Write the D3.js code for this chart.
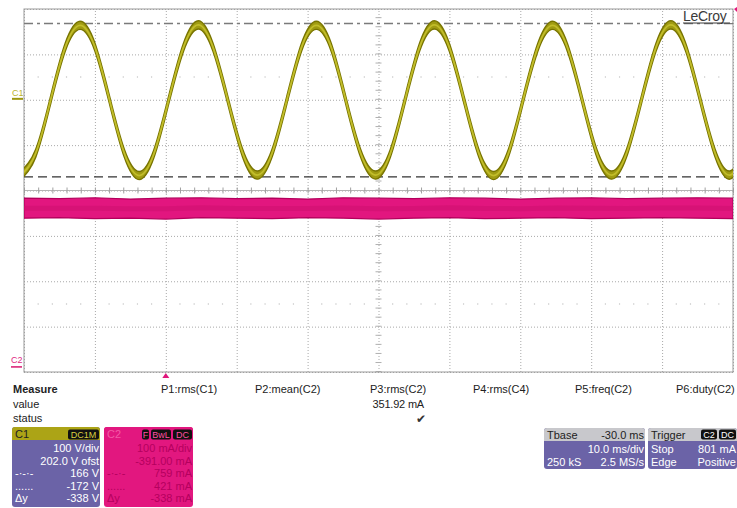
<!DOCTYPE html>
<html>
<head>
<meta charset="utf-8">
<script src="https://cdn.jsdelivr.net/npm/d3@7"></script>
<style>
  html, body { margin: 0; padding: 0; background: #fff; }
  svg { display: block; font-family: "Liberation Sans", Arial, sans-serif; }
</style>
</head>
<body>
<svg id="scope" width="737" height="508"></svg>
<script>
// ---- Channel C1 (voltage) samples, ms / V, one per eighth of a mains cycle ----
const c1Time = [-20.43, -18.35, -16.27, -14.18, -12.10, -10.02, -7.93, -5.85,
  -3.77, -1.68, 0.40, 2.48, 4.57, 6.65, 8.73, 10.82,
  12.90, 14.98, 17.07, 19.15, 21.23, 23.32, 25.40, 27.48,
  29.57, 31.65, 33.73, 35.82, 37.90, 39.98, 42.07, 44.15,
  46.23, 48.32, 50.40, 52.48, 54.57, 56.65, 58.73, 60.82,
  62.90, 64.98, 67.07, 69.15, 71.23, 73.32, 75.40, 77.48,
  79.57, 81.65];
const c1Volts = [-168, -120, -4, 114, 162, 115, -3, -120,
  -169, -121, -3, 113, 163, 114, -2, -119,
  -168, -120, -3, 114, 162, 114, -4, -120,
  -168, -121, -3, 115, 163, 114, -3, -120,
  -169, -120, -2, 114, 162, 113, -3, -121,
  -168, -120, -3, 114, 163, 114, -3, -120,
  -168, -120];
const c1Noise = 9;              // half-width of the noise band, V

// ---- Channel C2 (current) noise envelope, ms / mA ----
const c2Time  = [-20, -15, -10, -5, 0, 5, 10, 15, 20, 25, 30, 35, 40, 45, 50, 55, 60, 65, 70, 75, 80];
const c2Upper = [374, 373, 375, 372, 374, 375, 373, 374, 372, 375, 374, 373, 375, 374, 372, 374, 375, 373, 374, 375, 374];
const c2Lower = [330, 331, 329, 330, 328, 331, 330, 329, 331, 330, 328, 330, 331, 329, 330, 331, 329, 330, 331, 330, 329];

// ---- Screen divisions ----
const timeDivs = [-20, -10, 0, 10, 20, 30, 40, 50, 60, 70, 80];           // 10 ms/div
const c1Divs   = [-602, -502, -402, -302, -202, -102, -2, 98, 198];       // 100 V/div, 202 V offset
const c1Range  = [-602, 198];
const c2Range  = [-9, 791];                                               // 100 mA/div, -391 mA offset
const cursorVolts = [166, -172];
const triggerTime = 0;
const triggerLevel = 801;

// ---- Readout texts ----
const measureLabels = ["Measure", "value", "status"];
const paramNames = ["P1:rms(C1)", "P2:mean(C2)", "P3:rms(C2)", "P4:rms(C4)", "P5:freq(C2)", "P6:duty(C2)"];
const paramValues = ["", "", "351.92 mA", "", "", ""];
const c1Rows = [["", "100 V/div"], ["", "202.0 V ofst"], ["-·-·-", "166 V"], ["......", "-172 V"], ["Δy", "-338 V"]];
const c2Rows = [["", "100 mA/div"], ["", "-391.00 mA"], ["-·-·-", "759 mA"], ["......", "421 mA"], ["Δy", "-338 mA"]];
const tbaseRows = [["", "10.0 ms/div"], ["250 kS", "2.5 MS/s"]];
const trigRows = [["Stop", "801 mA"], ["Edge", "Positive"]];

const svg = d3.select("#scope");
const L = 24, R = 733, T = 9, B = 372;
const cx = (L + R) / 2, cy = (T + B) / 2;

const x  = d3.scaleLinear().domain([-20, 80]).range([L, R]);
const y1 = d3.scaleLinear().domain(c1Range).range([B, T]);
const y2 = d3.scaleLinear().domain(c2Range).range([B, T]);

svg.append("defs").append("clipPath").attr("id", "plotClip")
  .append("rect").attr("x", L).attr("y", T).attr("width", R - L).attr("height", B - T);

// ---- Graticule ----
const grid = svg.append("g");
grid.append("g")
  .attr("transform", `translate(0,${B})`)
  .call(d3.axisBottom(x).tickValues(timeDivs).tickSize(-(B - T)).tickFormat(""))
  .call(g => g.select(".domain").remove())
  .call(g => g.selectAll("line").attr("stroke", "#a8a8a8").attr("stroke-dasharray", "1,2"));
grid.append("g")
  .attr("transform", `translate(${L},0)`)
  .call(d3.axisLeft(y1).tickValues(c1Divs).tickSize(-(R - L)).tickFormat(""))
  .call(g => g.select(".domain").remove())
  .call(g => g.selectAll("line").attr("stroke", "#a8a8a8").attr("stroke-dasharray", "1,2"));

// centre horizontal line with minor ticks
grid.append("line").attr("x1", L).attr("x2", R).attr("y1", cy).attr("y2", cy)
  .attr("stroke", "#b4b4b4").attr("stroke-width", 1);
grid.append("g")
  .attr("transform", `translate(0,${cy - 3})`)
  .call(d3.axisBottom(x).ticks(50).tickSize(6).tickFormat(""))
  .call(g => g.select(".domain").remove())
  .call(g => g.selectAll("line").attr("stroke", "#a0a0a0"));
// centre vertical minor ticks
grid.append("g")
  .attr("transform", `translate(${cx - 3},0)`)
  .call(d3.axisRight(y1).tickValues(d3.range(-600, 199, 20)).tickSize(6).tickFormat(""))
  .call(g => g.select(".domain").remove())
  .call(g => g.selectAll("line").attr("stroke", "#b0b0b0"));

// faint dotted rows at 1.5 and 6.5 divisions
const minorTimes = x.ticks(50).filter(t => t % 10 !== 0);
[y1(-202 + 250), y1(-202 - 250)].forEach(yy => {
  grid.append("g").selectAll("circle").data(minorTimes).join("circle")
    .attr("cx", d => x(d)).attr("cy", yy).attr("r", 0.7).attr("fill", "#c4c4c4");
});

// frame
svg.append("rect").attr("x", L).attr("y", T).attr("width", R - L).attr("height", B - T)
  .attr("fill", "none").attr("stroke", "#9a9a9a").attr("stroke-width", 1);

// ---- Cursors ----
svg.append("line").attr("x1", L).attr("x2", R).attr("y1", y1(cursorVolts[0])).attr("y2", y1(cursorVolts[0]))
  .attr("stroke", "#7a7a7a").attr("stroke-width", 1.3).attr("stroke-dasharray", "9,4,3,4");
svg.append("line").attr("x1", L).attr("x2", R).attr("y1", y1(cursorVolts[1])).attr("y2", y1(cursorVolts[1]))
  .attr("stroke", "#333").attr("stroke-width", 1.3).attr("stroke-dasharray", "9,5");

// ---- Traces ----
const traces = svg.append("g").attr("clip-path", "url(#plotClip)");

const c1 = c1Time.map((t, i) => ({ t, v: c1Volts[i] }));
traces.append("path").datum(c1)
  .attr("d", d3.area().curve(d3.curveNatural)
    .x(d => x(d.t)).y0(d => y1(d.v - c1Noise)).y1(d => y1(d.v + c1Noise)))
  .attr("fill", "#a09b12").attr("stroke", "#787400").attr("stroke-width", 1.4);
traces.append("path").datum(c1)
  .attr("d", d3.line().curve(d3.curveNatural).x(d => x(d.t)).y(d => y1(d.v)))
  .attr("fill", "none").attr("stroke", "#c2bd2a").attr("stroke-width", 1.8);

const c2 = c2Time.map((t, i) => ({ t, hi: c2Upper[i], lo: c2Lower[i] }));
traces.append("path").datum(c2)
  .attr("d", d3.area().x(d => x(d.t)).y0(d => y2(d.lo)).y1(d => y2(d.hi)))
  .attr("fill", "#e2167f").attr("stroke", "#b3005c").attr("stroke-width", 1.2);
traces.append("path").datum(c2)
  .attr("d", d3.line().x(d => x(d.t)).y(d => y2((d.hi + d.lo) / 2)))
  .attr("fill", "none").attr("stroke", "#d0106f").attr("stroke-width", 5).attr("opacity", 0.6);

// ---- Channel markers on the left ----
svg.append("text").attr("x", 12).attr("y", 96).attr("font-size", 9).attr("fill", "#b9b330").text("C1");
svg.append("line").attr("x1", 12).attr("x2", 23).attr("y1", y1(0)).attr("y2", y1(0))
  .attr("stroke", "#9c9610").attr("stroke-width", 2);
svg.append("text").attr("x", 11).attr("y", 363).attr("font-size", 9).attr("fill", "#e0267f").text("C2");
svg.append("line").attr("x1", 11).attr("x2", 22).attr("y1", y2(0) - 1).attr("y2", y2(0) - 1)
  .attr("stroke", "#d8186f").attr("stroke-width", 1.5);

// trigger position and level markers
const tx = x(triggerTime);
svg.append("path").attr("d", `M${tx - 3.5},${B + 6}L${tx + 3.5},${B + 6}L${tx},${B + 1}Z`).attr("fill", "#e0167c");
svg.append("path").attr("d", `M${R + 1},${Math.max(T, y2(triggerLevel))}l3,-2l0,5z`).attr("fill", "#e0167c");

// ---- LeCroy logo ----
svg.append("rect").attr("x", 680).attr("y", T + 1).attr("width", 52).attr("height", 13).attr("fill", "#fff");
svg.append("text").attr("x", 683).attr("y", 20.5).attr("font-size", 14).attr("fill", "#3a3a3a")
  .attr("letter-spacing", -0.3).text("LeCroy");
svg.append("line").attr("x1", 683).attr("x2", 730).attr("y1", 23).attr("y2", 23)
  .attr("stroke", "#3a3a3a").attr("stroke-width", 1);

// ---- Measurement table ----
const fs = 11;
measureLabels.forEach((s, i) => {
  svg.append("text").attr("x", 13).attr("y", 393 + i * 14.5).attr("font-size", fs)
    .attr("font-weight", i === 0 ? "bold" : "normal").attr("fill", "#222").text(s);
});
const paramX = [161, 255, 370, 473, 575, 676];
paramNames.forEach((s, i) => {
  svg.append("text").attr("x", paramX[i]).attr("y", 393).attr("font-size", fs).attr("fill", "#222").text(s);
  if (paramValues[i]) {
    svg.append("text").attr("x", paramX[i] + 54).attr("y", 407.5).attr("font-size", fs)
      .attr("text-anchor", "end").attr("fill", "#222").attr("letter-spacing", -0.2).text(paramValues[i]);
    svg.append("text").attr("x", paramX[i] + 46).attr("y", 423).attr("font-size", 12)
      .attr("font-family", "DejaVu Sans").attr("fill", "#333").text("✔");
  }
});

// badge helper
function badge(g, x0, w, label, bg, fg) {
  g.append("rect").attr("x", x0).attr("y", 429.5).attr("width", w).attr("height", 10).attr("rx", 2).attr("fill", bg);
  g.append("text").attr("x", x0 + w / 2).attr("y", 438).attr("font-size", 9).attr("text-anchor", "middle")
    .attr("fill", fg).text(label);
}

// channel descriptor boxes
function channelBox(x0, w, headColor, bodyColor, name, nameColor, badges, rows, textColor, leftColor) {
  const g = svg.append("g");
  g.append("rect").attr("x", x0).attr("y", 427).attr("width", w).attr("height", 80).attr("rx", 3).attr("fill", bodyColor);
  g.append("path").attr("d", `M${x0},440V430a3,3 0 0 1 3,-3H${x0 + w - 3}a3,3 0 0 1 3,3V440Z`).attr("fill", headColor);
  g.append("text").attr("x", x0 + 3).attr("y", 438).attr("font-size", fs).attr("fill", nameColor).text(name);
  let bx = x0 + w - 1;
  badges.slice().reverse().forEach(b => {
    bx -= b.w;
    badge(g, bx, b.w, b.label, "#111", b.fg);
    bx -= 2;
  });
  rows.forEach((r, i) => {
    const yy = 452 + i * 12.5;
    if (r[0]) g.append("text").attr("x", x0 + 3).attr("y", yy).attr("font-size", fs).attr("fill", leftColor).text(r[0]);
    g.append("text").attr("x", x0 + w - 1).attr("y", yy).attr("font-size", fs).attr("text-anchor", "end")
      .attr("fill", textColor).text(r[1]);
  });
}
channelBox(12, 88, "#aca416", "#6b63a7", "C1", "#222",
  [{ label: "DC1M", w: 31, fg: "#d8d040" }], c1Rows, "#fff", "#fff");
channelBox(104, 89, "#e2177f", "#e2177f", "C2", "#f35aa6",
  [{ label: "F", w: 7, fg: "#ff4fa2" }, { label: "BwL", w: 20, fg: "#ff4fa2" }, { label: "DC", w: 19, fg: "#ff4fa2" }],
  c2Rows, "#b5005e", "#b5005e");

// timebase and trigger boxes
function infoBox(x0, w, title, titleRight, badges, rows) {
  const g = svg.append("g");
  g.append("rect").attr("x", x0).attr("y", 428).attr("width", w).attr("height", 41).attr("rx", 3).attr("fill", "#6b63a7");
  g.append("path").attr("d", `M${x0},441V431a3,3 0 0 1 3,-3H${x0 + w - 3}a3,3 0 0 1 3,3V441Z`).attr("fill", "#c8c8cc");
  g.append("text").attr("x", x0 + 3).attr("y", 438.5).attr("font-size", fs).attr("fill", "#222").text(title);
  if (titleRight) g.append("text").attr("x", x0 + w - 1).attr("y", 438.5).attr("font-size", fs)
    .attr("text-anchor", "end").attr("fill", "#222").text(titleRight);
  let bx = x0 + w - 1;
  badges.slice().reverse().forEach(b => {
    bx -= b.w;
    badge(g, bx, b.w, b.label, "#111", "#fff");
    bx -= 2;
  });
  rows.forEach((r, i) => {
    const yy = 453 + i * 12.5;
    if (r[0]) g.append("text").attr("x", x0 + 3).attr("y", yy).attr("font-size", fs).attr("fill", "#fff").text(r[0]);
    g.append("text").attr("x", x0 + w - 1).attr("y", yy).attr("font-size", fs).attr("text-anchor", "end")
      .attr("fill", "#fff").text(r[1]);
  });
}
infoBox(544, 101, "Tbase", "-30.0 ms", [], tbaseRows);
infoBox(648, 89, "Trigger", "", [{ label: "C2", w: 16 }, { label: "DC", w: 17 }], trigRows);
</script>
</body>
</html>
